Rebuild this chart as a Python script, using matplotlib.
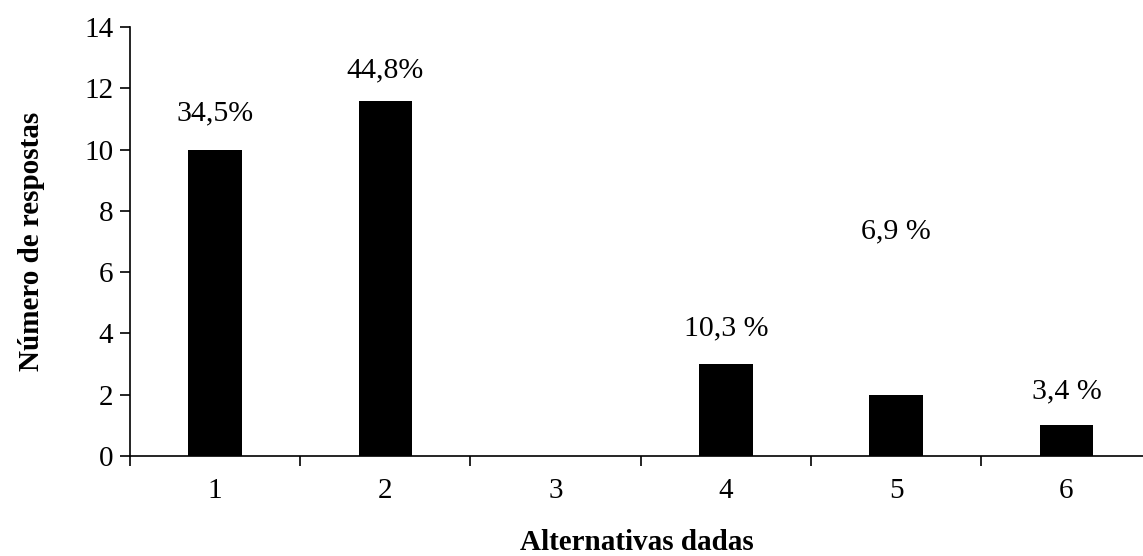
import matplotlib.pyplot as plt
import numpy as np

plt.rcParams['font.family'] = ['Liberation Serif', 'DejaVu Serif']

alternativas = ["1", "2", "3", "4", "5", "6"]
respostas = [10, 11.6, 0, 3, 2, 1]
rotulos = ["34,5%", "44,8%", "", "10,3 %", "6,9 %", "3,4 %"]
# label heights (data units) for each percentage
alturas_rotulo = [10.75, 12.15, 0, 3.75, 6.9, 1.7]

fig = plt.figure(figsize=(11.43, 5.56), dpi=100)
ax = fig.add_axes([0.1137, 0.1799, 0.8863, 0.7715])

x = np.arange(1, len(alternativas) + 1)
ax.bar(x, respostas, width=0.315, color="black")

for xi, txt, h in zip(x, rotulos, alturas_rotulo):
    if txt:
        ax.text(xi, h, txt, ha="center", va="bottom", fontsize=21.5)

ax.set_xlim(0.5, 6.45)
ax.set_ylim(0, 14)
ax.set_yticks(range(0, 15, 2))
ax.set_xticks(x)
ax.set_xticklabels(alternativas)
ax.set_xticks(np.arange(0.5, 6.5, 1), minor=True)

ax.tick_params(axis="x", which="major", length=0, pad=16, labelsize=21)
ax.tick_params(axis="x", which="minor", length=7, direction="out", width=1.2)
ax.tick_params(axis="y", length=7, direction="out", width=1.2, labelsize=21, pad=5)

for s in ["top", "right"]:
    ax.spines[s].set_visible(False)
for s in ["left", "bottom"]:
    ax.spines[s].set_linewidth(1.2)

ax.set_xlabel("Alternativas dadas", fontsize=21, fontweight="bold", labelpad=18)
ax.set_ylabel("Número de respostas", fontsize=21, fontweight="bold", labelpad=28)

fig.savefig("out.png", dpi=100)
